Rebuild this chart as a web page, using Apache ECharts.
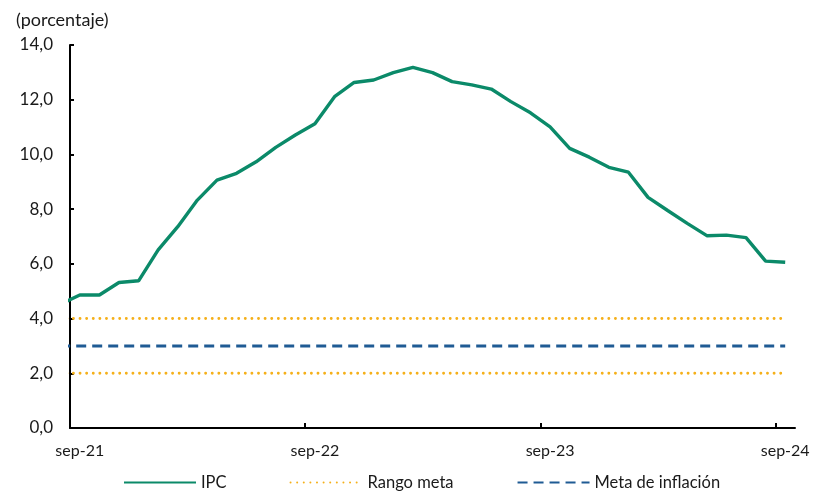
<!DOCTYPE html>
<html lang="es">
<head>
<meta charset="utf-8">
<title>IPC y meta de inflación</title>
<script src="https://cdn.jsdelivr.net/npm/echarts@6/dist/echarts.min.js"></script>
<style>
  html, body { margin: 0; padding: 0; background: #fff; }
  #chart { width: 813px; height: 494px; }
</style>
</head>
<body>
<div id="chart"></div>
<script>
// Monthly periods, aug-21 .. sep-24 (aug-21 sits just left of the axis start)
const months = [
  'ago-21','sep-21','oct-21','nov-21','dic-21','ene-22','feb-22','mar-22','abr-22','may-22','jun-22','jul-22','ago-22',
  'sep-22','oct-22','nov-22','dic-22','ene-23','feb-23','mar-23','abr-23','may-23','jun-23','jul-23','ago-23',
  'sep-23','oct-23','nov-23','dic-23','ene-24','feb-24','mar-24','abr-24','may-24','jun-24','jul-24','ago-24','sep-24'
];

// Annual CPI inflation (%)
const ipc = [
  4.52, 4.86, 4.86, 5.32, 5.38, 6.51, 7.36, 8.33, 9.06, 9.31, 9.73, 10.26, 10.71,
  11.12, 12.11, 12.63, 12.72, 12.99, 13.18, 12.99, 12.66, 12.54, 12.39, 11.93, 11.52,
  11.01, 10.22, 9.90, 9.53, 9.35, 8.43, 7.95, 7.48, 7.03, 7.05, 6.96, 6.10, 6.06
];

// Target range bounds and point target (%)
const rangoSuperior = [
  4, 4, 4, 4, 4, 4, 4, 4, 4, 4, 4, 4, 4,
  4, 4, 4, 4, 4, 4, 4, 4, 4, 4, 4, 4,
  4, 4, 4, 4, 4, 4, 4, 4, 4, 4, 4, 4, 4
];
const rangoInferior = [
  2, 2, 2, 2, 2, 2, 2, 2, 2, 2, 2, 2, 2,
  2, 2, 2, 2, 2, 2, 2, 2, 2, 2, 2, 2,
  2, 2, 2, 2, 2, 2, 2, 2, 2, 2, 2, 2, 2
];
const meta = [
  3, 3, 3, 3, 3, 3, 3, 3, 3, 3, 3, 3, 3,
  3, 3, 3, 3, 3, 3, 3, 3, 3, 3, 3, 3,
  3, 3, 3, 3, 3, 3, 3, 3, 3, 3, 3, 3, 3
];

// Axis tick labels
const tickLabels = ['sep-21', 'sep-22', 'sep-23', 'sep-24'];
const yTicks = [0, 2, 4, 6, 8, 10, 12, 14];

// x position of each month: sep-21 = 0
const firstIndex = months.indexOf('sep-21');
const toPairs = arr => arr.map((v, i) => [i - firstIndex, v]);

// labels sit on the labelled month, ticks on the boundary just before it
const labelPositions = tickLabels.map(l => months.indexOf(l) - firstIndex);
const tickPositions = labelPositions.map(p => p - 0.5);

const FONT = 'Lato, "Open Sans", sans-serif';
const TEXT = '#1a1a1a';
const GREEN = '#0b8a69';
const GOLD = '#f5b01a';
const BLUE = '#1f5b94';
const DOTS = { color: GOLD, width: 2.9, type: [0.01, 6.6], cap: 'round' };

const chart = echarts.init(document.getElementById('chart'), null, { renderer: 'canvas' });

chart.setOption({
  animation: false,
  backgroundColor: '#ffffff',
  textStyle: { fontFamily: FONT },
  title: {
    text: '(porcentaje)',
    left: 11,
    top: 6,
    textStyle: { fontFamily: FONT, fontSize: 18, fontWeight: 'normal', color: TEXT }
  },
  grid: { left: 70, right: 18, top: 45, bottom: 66 },
  legend: {
    left: 123,
    top: 474,
    padding: 0,
    itemWidth: 72,
    itemHeight: 14,
    itemGap: 63,
    itemStyle: { opacity: 0 },
    textStyle: { fontFamily: FONT, fontSize: 16.5, color: TEXT },
    data: ['IPC', 'Rango meta', 'Meta de inflación']
  },
  xAxis: {
    type: 'value',
    min: tickPositions[0],
    max: 36.5,
    splitLine: { show: false },
    axisLine: { show: true, onZero: false, lineStyle: { color: '#000', width: 2 } },
    axisTick: {
      show: true,
      inside: true,
      length: 5,
      customValues: tickPositions,
      lineStyle: { color: '#000', width: 2 }
    },
    axisLabel: {
      customValues: labelPositions,
      margin: 15,
      fontFamily: FONT,
      fontSize: 16,
      color: TEXT,
      formatter: v => {
        const k = labelPositions.findIndex(p => Math.abs(p - v) < 1e-6);
        return k >= 0 ? tickLabels[k] : '';
      }
    }
  },
  yAxis: {
    type: 'value',
    min: yTicks[0],
    max: yTicks[yTicks.length - 1],
    interval: 2,
    splitLine: { show: false },
    axisLine: { show: true, onZero: false, lineStyle: { color: '#000', width: 2 } },
    axisTick: { show: true, inside: true, length: 4, lineStyle: { color: '#000', width: 2 } },
    axisLabel: {
      margin: 17,
      fontFamily: FONT,
      fontSize: 17,
      color: TEXT,
      formatter: v => v.toFixed(1).replace('.', ',')
    }
  },
  series: [
    {
      name: 'IPC',
      type: 'line',
      data: toPairs(ipc),
      symbol: 'none',
      clip: true,
      z: 5,
      lineStyle: { color: GREEN, width: 3.4 },
      itemStyle: { color: GREEN }
    },
    {
      name: 'Rango meta',
      type: 'line',
      data: toPairs(rangoSuperior),
      symbol: 'none',
      clip: true,
      lineStyle: DOTS,
      itemStyle: { color: GOLD }
    },
    {
      name: 'Rango meta',
      type: 'line',
      data: toPairs(rangoInferior),
      symbol: 'none',
      clip: true,
      lineStyle: DOTS,
      itemStyle: { color: GOLD }
    },
    {
      name: 'Meta de inflación',
      type: 'line',
      data: toPairs(meta),
      symbol: 'none',
      clip: true,
      lineStyle: { color: BLUE, width: 3, type: [10, 6] },
      itemStyle: { color: BLUE }
    }
  ]
});
</script>
</body>
</html>
